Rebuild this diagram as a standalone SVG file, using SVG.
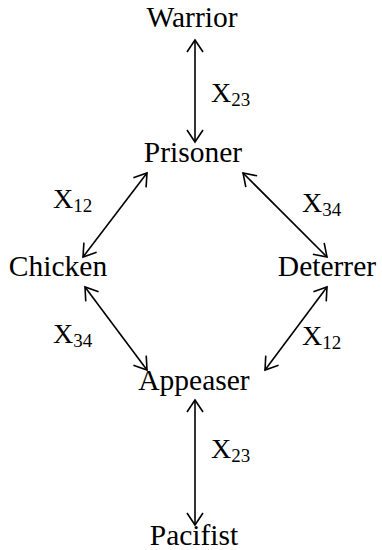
<svg xmlns="http://www.w3.org/2000/svg" width="382" height="550" viewBox="0 0 382 550">
<style>
.n{font-family:"Liberation Serif","Times New Roman",serif;font-size:29.5px;fill:#000;text-anchor:middle}
.l{font-family:"Liberation Serif","Times New Roman",serif;font-size:28px;fill:#000}
.s{font-size:19px}
.c{stroke:#000;stroke-width:1.6;fill:none;marker-start:url(#a);marker-end:url(#a)}
</style>
<defs>
<marker id="a" markerUnits="userSpaceOnUse" viewBox="-14 -10 16 20" refX="0" refY="0" markerWidth="16" markerHeight="20" orient="auto-start-reverse" overflow="visible">
<path d="M-12,-8 L0,0 L-12,8" fill="none" stroke="#000" stroke-width="1.6"/>
</marker>
</defs>
<rect width="382" height="550" fill="#fff"/>
<g id="connectors">
<line class="c" x1="195" y1="40" x2="195" y2="142"/>
<line class="c" x1="147" y1="173" x2="83" y2="257"/>
<line class="c" x1="85" y1="287" x2="147" y2="370"/>
<line class="c" x1="243" y1="173" x2="327" y2="257"/>
<line class="c" x1="327" y1="287" x2="265" y2="370"/>
<line class="c" x1="195" y1="400" x2="195" y2="525"/>
</g>
<g id="labels">
<text class="l" x="211" y="102">X<tspan class="s" dy="4">23</tspan></text>
<text class="l" x="53" y="208">X<tspan class="s" dy="4">12</tspan></text>
<text class="l" x="302" y="212">X<tspan class="s" dy="4">34</tspan></text>
<text class="l" x="53" y="343">X<tspan class="s" dy="4">34</tspan></text>
<text class="l" x="302" y="345">X<tspan class="s" dy="4">12</tspan></text>
<text class="l" x="211" y="458">X<tspan class="s" dy="4">23</tspan></text>
</g>
<g id="warrior"><text class="n" x="192" y="27">Warrior</text></g>
<g id="prisoner"><text class="n" x="193" y="162">Prisoner</text></g>
<g id="chicken"><text class="n" x="58" y="276">Chicken</text></g>
<g id="deterrer"><text class="n" x="327" y="276">Deterrer</text></g>
<g id="appeaser"><text class="n" x="194" y="390">Appeaser</text></g>
<g id="pacifist"><text class="n" x="194" y="545">Pacifist</text></g>
</svg>
